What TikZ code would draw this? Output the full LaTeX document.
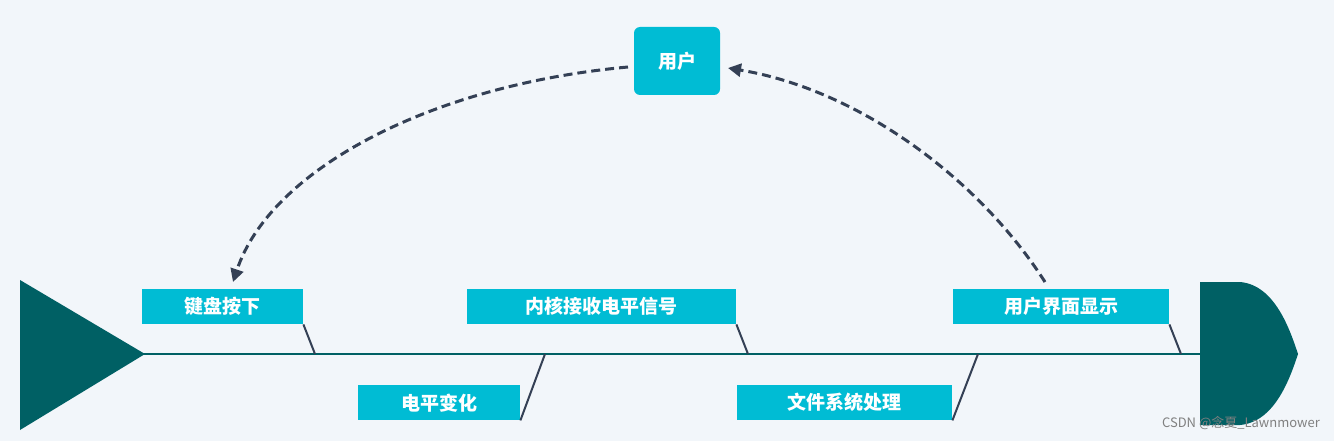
\documentclass[tikz,border=0pt]{standalone}
\usepackage{fontspec}
\setmainfont{Noto Sans CJK SC}
\usetikzlibrary{arrows.meta}
\definecolor{bg}{HTML}{F2F6FA}
\definecolor{teal}{HTML}{006064}
\definecolor{cy}{HTML}{00BCD4}
\definecolor{sl}{HTML}{344055}
\begin{document}
\begin{tikzpicture}[x=1pt,y=-1pt,
 lbl/.style={fill=cy,text=white,font=\bfseries\fontsize{19}{19}\selectfont,inner sep=0pt,minimum height=35pt,anchor=north west},
 bone/.style={sl,line width=2pt},
 arr/.style={sl,line width=3pt,dash pattern=on 9pt off 5pt,-{Triangle[length=13pt,width=13pt]}}]
\fill[bg] (0,0) rectangle (1334,441);
\useasboundingbox (0,0) rectangle (1334,441);
\draw[teal,line width=2.5pt] (140,354) -- (1205,354);
\fill[teal] (20,280) -- (145,354) -- (20,430) -- cycle;
\fill[teal] (1200,282) -- (1240,282) .. controls (1275,285) and (1290,330) .. (1298,354) .. controls (1290,378) and (1275,422) .. (1240,425) -- (1200,425) -- cycle;
\node[lbl,minimum width=161pt] (a) at (142,289) {键盘按下};
\node[lbl,minimum width=269pt] (b) at (467,289) {内核接收电平信号};
\node[lbl,minimum width=216pt] (c) at (953,289) {用户界面显示};
\node[lbl,minimum width=162pt] (d) at (358,385) {电平变化};
\node[lbl,minimum width=215pt] (e) at (737,385) {文件系统处理};
\node[fill=cy,text=white,rounded corners=6pt,font=\bfseries\fontsize{19}{19}\selectfont,minimum width=86pt,minimum height=68pt,inner sep=0pt] (u) at (677,61) {用户};
\coordinate (a1) at (315,354); \coordinate (b1) at (748,354); \coordinate (c1) at (1181,354);
\coordinate (d1) at (545,354); \coordinate (e1) at (978,354);
\draw[bone] (a.south east) -- (a1);
\draw[bone] (b.south east) -- (b1);
\draw[bone] (c.south east) -- (c1);
\draw[bone] (d.south east) -- (d1);
\draw[bone] (e.south east) -- (e1);
\coordinate (s1) at (628,67); \coordinate (t1) at (233,282);
\coordinate (s2) at (1045,282); \coordinate (t2) at (728,68);
\draw[arr] (s1) .. controls (430,85) and (270,170) .. (t1);
\draw[arr] (s2) .. controls (980,180) and (860,90) .. (t2);
\node[text=gray,font=\fontsize{13}{13}\selectfont,anchor=south east,inner sep=0pt] (w) at (1320,430) {CSDN @念夏\_Lawnmower};
\end{tikzpicture}
\end{document}
